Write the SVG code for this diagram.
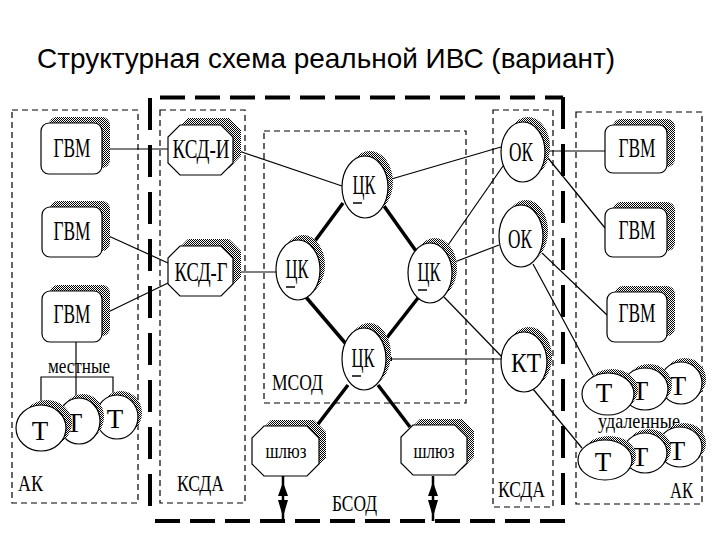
<svg xmlns="http://www.w3.org/2000/svg" width="720" height="540" viewBox="0 0 720 540">
<defs>
<pattern id="hatch" width="2" height="2" patternUnits="userSpaceOnUse"><rect width="2" height="2" fill="#fff"/><rect width="1" height="1" fill="#000"/><rect x="1" y="1" width="1" height="1" fill="#000"/></pattern>
<marker id="arr" viewBox="0 0 10 10" refX="9" refY="5" markerWidth="6" markerHeight="6" orient="auto" markerUnits="userSpaceOnUse"><path d="M0,1 L10,5 L0,9 z" fill="#000"/></marker>
<style>
.bx{fill:none;stroke:#000;stroke-width:1.2;stroke-dasharray:6 4}
.bh{fill:none;stroke:#000;stroke-width:4;stroke-dasharray:25 10}
.bv{fill:none;stroke:#000;stroke-width:4;stroke-dasharray:32 15}
.nd{fill:#fff;stroke:#000;stroke-width:1.2}
.sh{fill:url(#hatch);stroke:none}
.t{font-family:"Liberation Serif","DejaVu Serif",serif;font-size:27px;text-anchor:middle;fill:#000}
.lb{font-family:"Liberation Serif","DejaVu Serif",serif;font-size:24px;fill:#000}
.sm{font-family:"Liberation Serif","DejaVu Serif",serif;font-size:22px;text-anchor:middle;fill:#000}
.ln{stroke:#000;stroke-width:1.2;fill:none}
.tk{stroke:#000;stroke-width:3.5;fill:none}
.ul{stroke:#000;stroke-width:1.5}
</style>
</defs>
<rect width="720" height="540" fill="#fff"/>
<text x="37" y="68" font-family="'Liberation Sans',Arial,sans-serif" font-size="28" textLength="578" lengthAdjust="spacingAndGlyphs">Структурная схема реальной ИВС (вариант)</text>

<g id="areas">
<rect class="bx" x="12" y="110" width="126" height="393"/>
<rect class="bx" x="160" y="110" width="85" height="393"/>
<rect class="bx" x="264" y="131" width="202" height="272"/>
<rect class="bx" x="493" y="110" width="60" height="397"/>
<rect class="bx" x="576" y="112" width="126" height="392"/>
<path class="bh" d="M160,97.5 H563"/>
<path class="bv" d="M563,97 V521"/>
<path class="bh" d="M155,521 H565"/>
<path class="bv" d="M150,98 V515"/>
<text class="lb" x="18" y="491" textLength="25" lengthAdjust="spacingAndGlyphs">АК</text>
<text class="lb" x="177" y="491" textLength="47" lengthAdjust="spacingAndGlyphs">КСДА</text>
<text class="lb" x="272" y="390" font-size="26" textLength="51" lengthAdjust="spacingAndGlyphs">МСОД</text>
<text class="lb" x="332" y="511" font-size="26" textLength="45" lengthAdjust="spacingAndGlyphs">БСОД</text>
<text class="lb" x="498" y="497" textLength="47" lengthAdjust="spacingAndGlyphs">КСДА</text>
<text class="lb" x="670" y="498" textLength="23" lengthAdjust="spacingAndGlyphs">АК</text>
</g>

<g id="connectors">
<path class="ln" d="M102,149 H168"/>
<path class="ln" d="M102,233 L168,263"/>
<path class="ln" d="M168,283 L104,314" marker-end="url(#arr)"/>
<path class="ln" d="M233,149 L342,186"/>
<path class="ln" d="M233,272 H276"/>
<path class="ln" d="M388,180 L501,147"/>
<path class="ln" d="M446,248 L503,166"/>
<path class="ln" d="M452,263 L499,245"/>
<path class="ln" d="M444,297 L503,358"/>
<path class="ln" d="M501,359 H387" marker-end="url(#arr)"/>
<path class="ln" d="M545,151 H605"/>
<path class="ln" d="M548,158 L605,228"/>
<path class="ln" d="M542,253 L607,315"/>
<path class="ln" d="M533,264 L593,375"/>
<path class="ln" d="M533,389 L582,448"/>
<path class="ln" d="M76,342 V399"/>
<path class="ln" d="M41,406 V377 H113 V395"/>
<path class="tk" d="M343,203 L312,245"/>
<path class="tk" d="M384,206 L416,251"/>
<path class="tk" d="M305,296 L346,344"/>
<path class="tk" d="M418,298 L382,344"/>
<path class="tk" d="M348,385 L315,428"/>
<path class="tk" d="M378,385 L410,427"/>
<path stroke="#000" stroke-width="2.5" d="M283,476 V521 M433,476 V521"/>
<path fill="#000" d="M283,482 L278,496 L288,496 Z M278,500 L288,500 L283,517 Z M433,482 L428,496 L438,496 Z M428,500 L438,500 L433,517 Z"/>
</g>

<g id="gvm-l1"><rect class="sh" x="49" y="117" width="61" height="51" rx="8"/><rect class="nd" x="41" y="123" width="61" height="51" rx="8"/><text class="t" x="72" y="157" textLength="37" lengthAdjust="spacingAndGlyphs">ГВМ</text></g>
<g id="gvm-l2"><rect class="sh" x="50" y="201" width="60" height="50" rx="8"/><rect class="nd" x="42" y="207" width="60" height="50" rx="8"/><text class="t" x="72" y="240" textLength="37" lengthAdjust="spacingAndGlyphs">ГВМ</text></g>
<g id="gvm-l3"><rect class="sh" x="50" y="285" width="60" height="51" rx="8"/><rect class="nd" x="42" y="291" width="60" height="51" rx="8"/><text class="t" x="72" y="323" textLength="37" lengthAdjust="spacingAndGlyphs">ГВМ</text></g>

<g id="ksd-i"><polygon class="sh" points="188,118 229,118 241,130 241,156 229,168 188,168 176,156 176,130"/><polygon class="nd" points="180,125 221,125 233,137 233,163 221,175 180,175 168,163 168,137"/><text class="t" x="201" y="158" textLength="57" lengthAdjust="spacingAndGlyphs">КСД-И</text></g>
<g id="ksd-g"><polygon class="sh" points="188,239 229,239 241,251 241,277 229,289 188,289 176,277 176,251"/><polygon class="nd" points="180,246 221,246 233,258 233,284 221,296 180,296 168,284 168,258"/><text class="t" x="201" y="281" textLength="53" lengthAdjust="spacingAndGlyphs">КСД-Г</text></g>

<g id="ck-top"><ellipse class="sh" cx="370" cy="182" rx="23" ry="31"/><ellipse class="nd" cx="365" cy="187" rx="23" ry="31"/><text class="t" x="364" y="194" textLength="23" lengthAdjust="spacingAndGlyphs">ЦК</text><line class="ul" x1="353" y1="203" x2="362" y2="203"/></g>
<g id="ck-left"><ellipse class="sh" cx="303" cy="265" rx="22" ry="30"/><ellipse class="nd" cx="298" cy="270" rx="22" ry="30"/><text class="t" x="297" y="278" textLength="23" lengthAdjust="spacingAndGlyphs">ЦК</text><line class="ul" x1="286" y1="287" x2="295" y2="287"/></g>
<g id="ck-right"><ellipse class="sh" cx="435" cy="268" rx="22" ry="30"/><ellipse class="nd" cx="430" cy="273" rx="22" ry="30"/><text class="t" x="429" y="281" textLength="23" lengthAdjust="spacingAndGlyphs">ЦК</text><line class="ul" x1="418" y1="290" x2="427" y2="290"/></g>
<g id="ck-bot"><ellipse class="sh" cx="369" cy="354" rx="22" ry="31"/><ellipse class="nd" cx="364" cy="359" rx="22" ry="31"/><text class="t" x="363" y="367" textLength="23" lengthAdjust="spacingAndGlyphs">ЦК</text><line class="ul" x1="352" y1="376" x2="361" y2="376"/></g>

<g id="gw-l"><polygon class="sh" points="271,420 314,420 326,432 326,458 314,470 271,470 259,458 259,432"/><polygon class="nd" points="264,426 307,426 319,438 319,464 307,476 264,476 252,464 252,438"/><text class="sm" x="286" y="458" font-size="17" textLength="41" lengthAdjust="spacingAndGlyphs">шлюз</text></g>
<g id="gw-r"><polygon class="sh" points="420,419 462,419 474,431 474,457 462,469 420,469 408,457 408,431"/><polygon class="nd" points="413,425 455,425 467,437 467,463 455,475 413,475 401,463 401,437"/><text class="sm" x="434" y="458" font-size="17" textLength="41" lengthAdjust="spacingAndGlyphs">шлюз</text></g>

<g id="ok1"><ellipse class="sh" cx="528" cy="147" rx="22" ry="30"/><ellipse class="nd" cx="523" cy="152" rx="22" ry="30"/><text class="t" x="521" y="161" textLength="24" lengthAdjust="spacingAndGlyphs">ОК</text></g>
<g id="ok2"><ellipse class="sh" cx="526" cy="231" rx="22" ry="31"/><ellipse class="nd" cx="521" cy="236" rx="22" ry="31"/><text class="t" x="520" y="248" textLength="24" lengthAdjust="spacingAndGlyphs">ОК</text></g>
<g id="kt"><ellipse class="sh" cx="529" cy="357" rx="23" ry="30"/><ellipse class="nd" cx="524" cy="362" rx="23" ry="30"/><text class="t" x="526" y="372" textLength="30" lengthAdjust="spacingAndGlyphs">КТ</text></g>

<g id="gvm-r1"><rect class="sh" x="613" y="119" width="62" height="48" rx="8"/><rect class="nd" x="605" y="125" width="62" height="48" rx="8"/><text class="t" x="637" y="157" textLength="37" lengthAdjust="spacingAndGlyphs">ГВМ</text></g>
<g id="gvm-r2"><rect class="sh" x="613" y="202" width="62" height="49" rx="8"/><rect class="nd" x="605" y="208" width="62" height="49" rx="8"/><text class="t" x="637" y="239" textLength="37" lengthAdjust="spacingAndGlyphs">ГВМ</text></g>
<g id="gvm-r3"><rect class="sh" x="615" y="286" width="60" height="50" rx="8"/><rect class="nd" x="607" y="292" width="60" height="50" rx="8"/><text class="t" x="637" y="322" textLength="37" lengthAdjust="spacingAndGlyphs">ГВМ</text></g>

<g id="t-local">
<ellipse class="sh" cx="121" cy="413" rx="21" ry="22"/><ellipse class="nd" cx="117" cy="417" rx="21" ry="22"/><text class="t" x="115" y="428" font-size="25">Т</text>
<ellipse class="sh" cx="83" cy="417" rx="21" ry="23"/><ellipse class="nd" cx="79" cy="421" rx="21" ry="23"/><text class="t" x="74" y="432" font-size="25">Т</text>
<ellipse class="sh" cx="47" cy="423" rx="25" ry="23"/><ellipse class="nd" cx="41" cy="428" rx="25" ry="23"/><text class="t" x="40" y="440" font-size="25">Т</text>
<text class="sm" x="79" y="373" textLength="62" lengthAdjust="spacingAndGlyphs">местные</text>
</g>

<g id="t-remote1">
<ellipse class="sh" cx="685" cy="379" rx="21" ry="21"/><ellipse class="nd" cx="681" cy="383" rx="21" ry="21"/><text class="t" x="678" y="395" font-size="24">Т</text>
<ellipse class="sh" cx="649" cy="385" rx="23" ry="21"/><ellipse class="nd" cx="645" cy="389" rx="23" ry="21"/><text class="t" x="640" y="400" font-size="24">Т</text>
<ellipse class="sh" cx="612" cy="390" rx="26" ry="21"/><ellipse class="nd" cx="608" cy="394" rx="26" ry="21"/><text class="t" x="604" y="402" font-size="24">Т</text>
</g>
<text class="sm" x="639" y="428" font-size="20" textLength="82" lengthAdjust="spacingAndGlyphs">удаленные</text>
<g id="t-remote2">
<ellipse class="sh" cx="684" cy="443" rx="22" ry="20"/><ellipse class="nd" cx="680" cy="447" rx="22" ry="20"/><text class="t" x="677" y="460" font-size="25">Т</text>
<ellipse class="sh" cx="649" cy="449" rx="22" ry="20"/><ellipse class="nd" cx="645" cy="453" rx="22" ry="20"/><text class="t" x="640" y="466" font-size="25">Т</text>
<ellipse class="sh" cx="609" cy="456" rx="27" ry="20"/><ellipse class="nd" cx="605" cy="460" rx="27" ry="20"/><text class="t" x="603" y="471" font-size="25">Т</text>
</g>
</svg>
